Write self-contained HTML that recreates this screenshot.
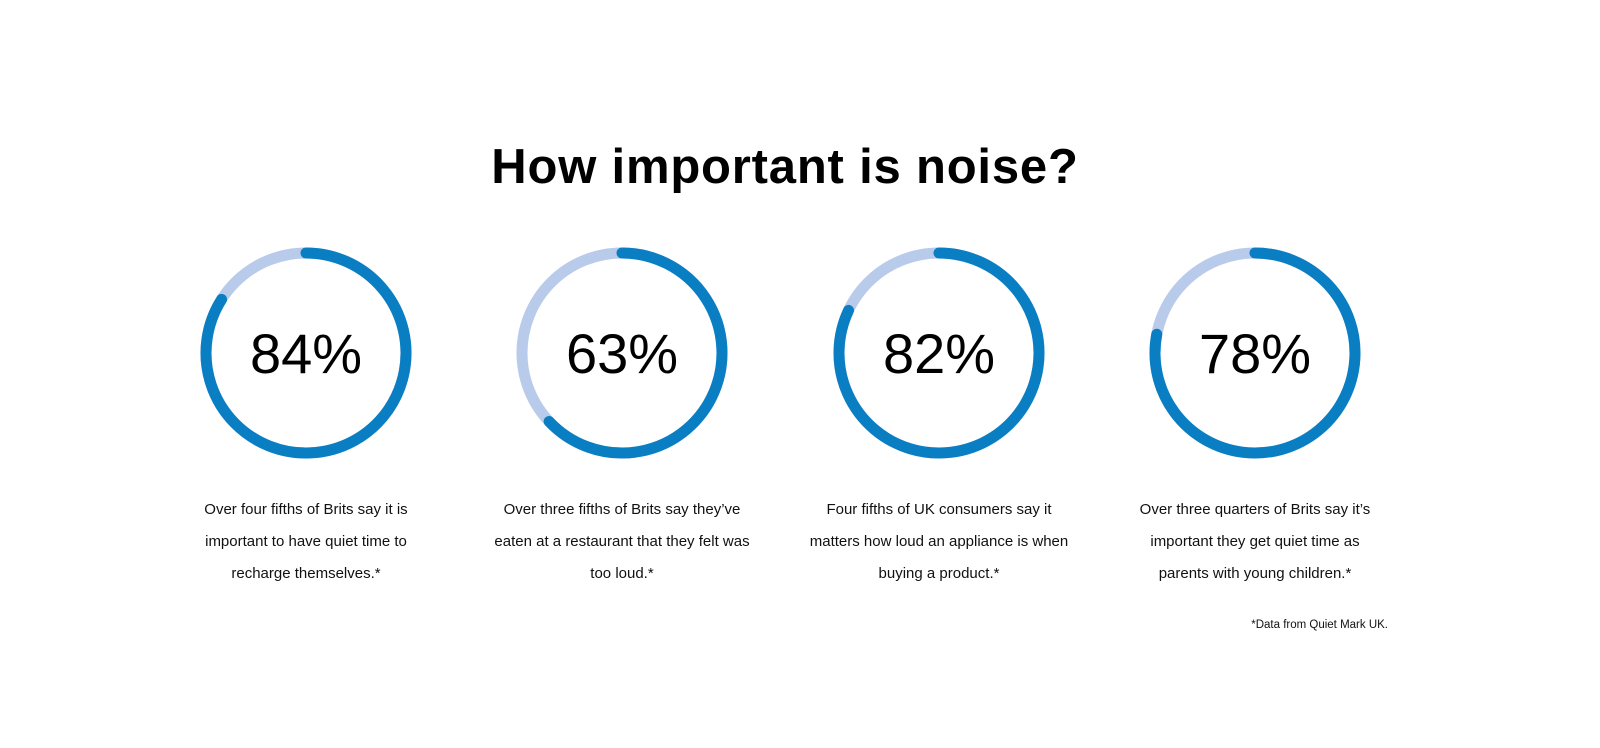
<!DOCTYPE html>
<html><head><meta charset="utf-8">
<style>
body{margin:0;background:#fff;font-family:"Liberation Sans",sans-serif;}
#wrap{position:relative;width:1600px;height:748px;overflow:hidden;}
h1{position:absolute;top:139px;left:0;width:1570px;text-align:center;margin:0;font-size:49px;font-weight:bold;color:#000;letter-spacing:0.8px;}
.desc{position:absolute;top:494px;width:260px;text-align:center;font-size:15px;line-height:32px;color:#111;}
.foot{position:absolute;top:619px;left:1160px;width:228px;text-align:right;font-size:11.5px;color:#111;}
</style></head><body>
<div id="wrap">
<h1>How important is noise?</h1>
<svg id="rings" width="1600" height="748" style="position:absolute;left:0;top:0"></svg>
<div class="desc" style="left:176px">Over four fifths of Brits say it is important to have quiet time to recharge themselves.*</div>
<div class="desc" style="left:492px">Over three fifths of Brits say they’ve eaten at a restaurant that they felt was too loud.*</div>
<div class="desc" style="left:809px">Four fifths of UK consumers say it matters how loud an appliance is when buying a product.*</div>
<div class="desc" style="left:1125px">Over three quarters of Brits say it’s important they get quiet time as parents with young children.*</div>
<div class="foot">*Data from Quiet Mark UK.</div>
</div>
<script>
const values=[84,63,82,78];
const labels=["84%","63%","82%","78%"];
const svg=document.getElementById('rings');
const NS="http://www.w3.org/2000/svg";
const cxs=[306,622,939,1255], cy=353, r=100, sw=11;
values.forEach((v,i)=>{
  const cx=cxs[i];
  const bg=document.createElementNS(NS,'circle');
  
  
  bg.setAttribute('cx',cx);bg.setAttribute('cy',cy);bg.setAttribute('r',r);
  bg.setAttribute('fill','none');bg.setAttribute('stroke','#b8cbea');bg.setAttribute('stroke-width',sw);
  svg.appendChild(bg);
  const a=v/100*2*Math.PI;
  const x1=cx, y1=cy-r;
  const x2=cx+r*Math.sin(a), y2=cy-r*Math.cos(a);
  const p=document.createElementNS(NS,'path');
  
  
  p.setAttribute('d',`M${x1},${y1} A${r},${r} 0 ${v>50?1:0} 1 ${x2},${y2}`);
  p.setAttribute('fill','none');p.setAttribute('stroke','#0a7ec2');p.setAttribute('stroke-width',sw);p.setAttribute('stroke-linecap','round');
  svg.appendChild(p);
  const t=document.createElementNS(NS,'text');
  
  
  t.setAttribute('x',cx);t.setAttribute('y',cy+20);t.setAttribute('text-anchor','middle');
  t.setAttribute('font-size','56');t.setAttribute('font-family','Liberation Sans, sans-serif');t.setAttribute('fill','#000');
  t.textContent=labels[i];
  svg.appendChild(t);
});
</script>
</body></html>
